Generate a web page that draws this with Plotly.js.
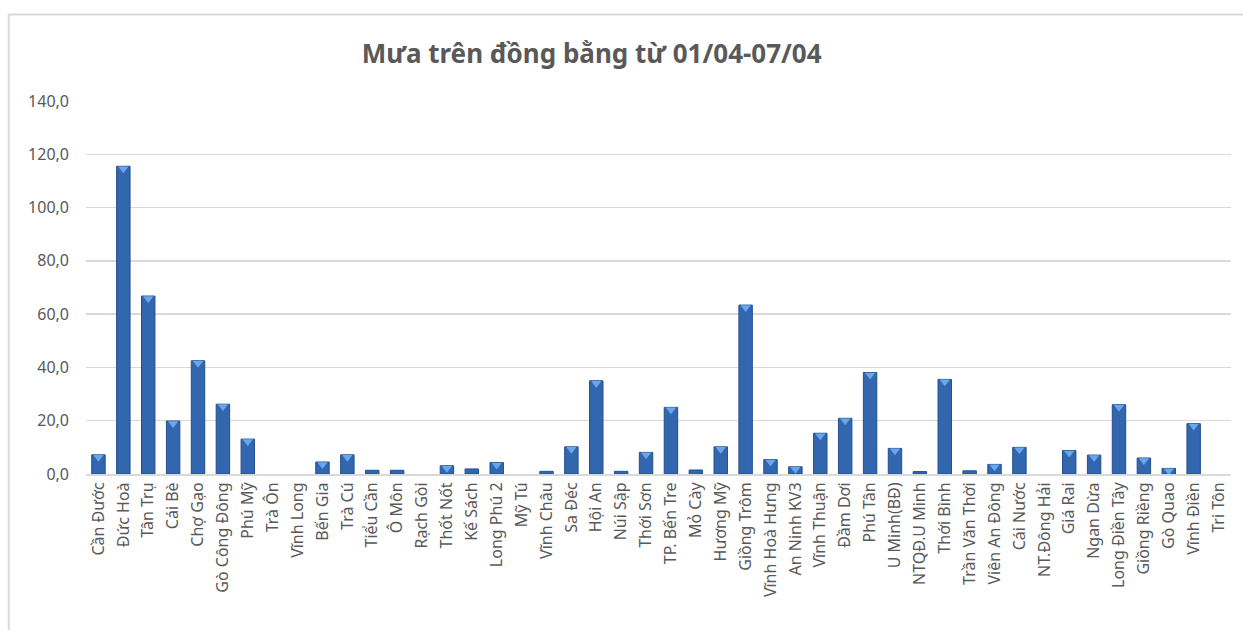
<!DOCTYPE html>
<html>
<head>
<meta charset="utf-8">
<script src="https://cdn.plot.ly/plotly-3.0.1.min.js"></script>
<style>html,body{margin:0;padding:0;background:#fff;}#chart{width:1243px;height:630px;}</style>
</head>
<body>
<div id="chart"></div>
<script>
const titleText = "Mưa trên đồng bằng từ 01/04-07/04";
const stations = ["Cần Đước","Đức Hoà","Tân Trụ","Cái Bè","Chợ Gạo","Gò Công Đông","Phú Mỹ","Trà Ôn","Vĩnh Long","Bến Gia","Trà Cú","Tiểu Cần","Ô Môn","Rạch Gòi","Thốt Nốt","Kế Sách","Long Phú 2","Mỹ Tú","Vĩnh Châu","Sa Đéc","Hội An","Núi Sập","Thới Sơn","TP. Bến Tre","Mỏ Cày","Hương Mỹ","Giồng Trôm","Vĩnh Hoà Hưng","An Ninh KV3","Vĩnh Thuận","Đầm Dơi","Phú Tân","U Minh(BĐ)","NTQĐ.U Minh","Thới Bình","Trần Văn Thời","Viên An Đông","Cái Nước","NT.Đông Hải","Giá Rai","Ngan Dừa","Long Điền Tây","Giồng Riềng","Gò Quao","Vĩnh Điền","Tri Tôn"];
const rainfall = [7.2,115.5,66.8,19.9,42.5,26.2,13.1,0,0,4.5,7.2,1.4,1.4,0,3.1,1.9,4.3,0,1.0,10.2,35.0,1.0,8.1,25.0,1.5,10.2,63.4,5.4,2.7,15.3,20.9,38.1,9.6,0.9,35.5,1.2,3.6,10.0,0,8.8,7.1,26.0,6.0,2.1,18.9,0];
const yTicks = [0,20,40,60,80,100,120,140];

const bars = {
  type: "bar",
  x: stations,
  y: rainfall,
  marker: {color: "#3266ae", line: {color: "#234f8e", width: rainfall.map(v => v > 0 ? 1 : 0)}},
  hoverinfo: "x+y"
};
// bevel highlight at top of each bar (drawn from the same data)
const capX = [], capY = [];
rainfall.forEach((v, i) => { if (v >= 2) { capX.push(stations[i]); capY.push(v - 0.9); } });
const caps = {
  type: "scatter", mode: "markers", x: capX, y: capY,
  marker: {symbol: "triangle-down", size: 9, color: "#6aa6ec", line: {width: 0}},
  hoverinfo: "skip", cliponaxis: true
};

const font = "'Noto Sans', 'Open Sans', sans-serif";
const layout = {
  width: 1243, height: 630,
  margin: {l: 86, r: 12, t: 101, b: 156},
  paper_bgcolor: "#ffffff", plot_bgcolor: "#ffffff",
  showlegend: false,
  separators: ",.",
  bargap: 0.46,
  title: {text: titleText, font: {family: font, size: 26, color: "#595959", weight: "bold"},
          x: 0.476, xref: "container", xanchor: "center", y: 0.914, yref: "container", yanchor: "middle"},
  xaxis: {
    type: "category", tickangle: -90, showgrid: false,
    range: [-0.5, stations.length - 0.5],
    tickfont: {family: font, size: 16, color: "#595959"},
    showline: true, linecolor: "#d9d9d9", linewidth: 2, ticks: "", automargin: false
  },
  yaxis: {
    range: [0, 140], tickvals: yTicks, tickformat: ".1f",
    tickfont: {family: font, size: 16, color: "#595959"},
    showgrid: true, gridcolor: "#d9d9d9", gridwidth: 1.5, zeroline: false,
    showline: false, ticks: "", ticklabelstandoff: 16, automargin: false
  },
  shapes: [{type: "rect", xref: "paper", yref: "paper",
            x0: -0.0675, x1: 1.2, y0: -0.8, y1: 1.232,
            line: {color: "#d9d9d9", width: 2}, fillcolor: "rgba(0,0,0,0)", layer: "below"}]
};
Plotly.newPlot("chart", [bars, caps], layout, {staticPlot: true, displayModeBar: false});
</script>
</body>
</html>
